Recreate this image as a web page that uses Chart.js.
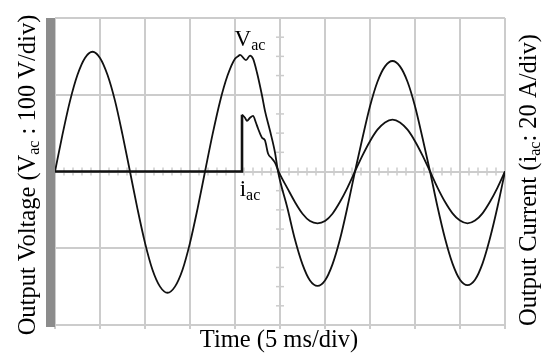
<!DOCTYPE html>
<html lang="en">
<head>
    <meta charset="UTF-8">
    <title>Output voltage and current</title>
    <style>
        body { margin: 0; background: #fff; }
        canvas { display: block; }
    </style>
</head>
<body>
    <canvas id="scopeChart" width="550" height="361"></canvas>
    <script src="https://cdn.jsdelivr.net/npm/chart.js"></script>
    <script>
        // time in ms (5 ms per division), voltage in V, current in A
        const vTime = [0, 0.83, 1.67, 2.5, 3.33, 4.17, 5, 5.83, 6.67, 7.5, 8.33, 9.17, 10, 10.83, 11.67, 12.5, 13.33, 14.17, 15, 15.83,
            16.67, 17.5, 18.33, 19.17, 20, 20.33, 20.56, 21.22, 21.67, 22.0, 22.44, 23.0, 23.33, 23.89, 24.44, 24.78,
            25.83, 26.67, 27.5, 28.33, 29.17, 30, 30.83, 31.67, 32.5, 33.33, 34.17, 35, 35.83, 36.67, 37.5, 38.33, 39.17,
            40, 40.83, 41.67, 42.5, 43.33, 44.17, 45, 45.83, 46.67, 47.5, 48.33, 49.17, 50];
        const vVolts = [0, 48, 92, 126, 148, 156, 148, 126, 92, 48, 0, -49, -93, -128, -150, -158, -150, -128, -93, -49,
            0, 48, 91, 125, 147, 150, 152, 145, 151, 147, 129, 99, 79, 53, 25, 0,
            -48, -89, -121, -142, -149, -142, -121, -88, -46, 0, 44, 85, 117, 137, 144, 137, 117,
            85, 44, 0, -46, -87, -120, -141, -148, -141, -120, -87, -46, 0];

        const iTime = [0, 20.78, 20.78, 21.11, 21.33, 21.67, 22.0, 22.33, 22.56, 23.0, 23.33, 23.67, 24.1, 24.44, 24.9,
            25.83, 26.67, 27.5, 28.33, 29.17, 30, 30.83, 31.67, 32.5, 33.33, 34.17, 35, 35.83, 36.67, 37.5, 38.33, 39.17,
            40, 40.83, 41.67, 42.5, 43.33, 44.17, 45, 45.83, 46.67, 47.5, 48.33, 49.17, 50];
        const iAmps = [0, 0, 14.8, 14.0, 13.2, 14.0, 14.5, 12.7, 11.2, 8.8, 8.1, 4.7, 3.4, 2.3, -0.3,
            -4.4, -8.0, -11.0, -12.9, -13.5, -12.9, -11.0, -7.9, -4.2, 0, 4.2, 7.9, 10.9, 12.8, 13.5, 12.8, 10.9,
            7.9, 4.2, 0, -4.2, -7.9, -10.9, -12.8, -13.5, -12.8, -10.9, -7.9, -4.2, 0];
        const stepIndex = 2; // first point after the load step

        const gridColor = '#cccccc';
        const serif = '"Liberation Serif", "Times New Roman", serif';

        const pts = (xs, ys) => xs.map((t, i) => ({ x: t, y: ys[i] }));
        const currentPts = pts(iTime, iAmps);

        function richText(ctx, parts, cx, cy, rot) {
            // parts: [text, fontSize, baselineShift]
            let total = 0;
            const widths = parts.map(p => {
                ctx.font = p[1] + 'px ' + serif;
                const w = ctx.measureText(p[0]).width;
                total += w;
                return w;
            });
            ctx.save();
            ctx.translate(cx, cy);
            ctx.rotate(rot);
            ctx.fillStyle = '#000';
            ctx.textBaseline = 'alphabetic';
            let xx = -total / 2;
            parts.forEach((p, i) => {
                ctx.font = p[1] + 'px ' + serif;
                ctx.fillText(p[0], xx, p[2]);
                xx += widths[i];
            });
            ctx.restore();
        }

        const scopeDeco = {
            id: 'scopeDeco',
            beforeDatasetsDraw(chart) {
                const { ctx, chartArea: a, scales } = chart;
                const x = scales.x, y = scales.yV;
                ctx.save();
                ctx.strokeStyle = gridColor;
                ctx.lineWidth = 1.5;
                const y0 = y.getPixelForValue(0);
                for (let t = 1; t < 50; t++) {
                    if (t % 5 === 0) continue;
                    const px = x.getPixelForValue(t);
                    ctx.beginPath(); ctx.moveTo(px, y0 - 4); ctx.lineTo(px, y0 + 4); ctx.stroke();
                }
                const x0 = x.getPixelForValue(25);
                for (let v = -175; v < 200; v += 25) {
                    if (v % 100 === 0) continue;
                    const py = y.getPixelForValue(v);
                    ctx.beginPath(); ctx.moveTo(x0 - 4, py); ctx.lineTo(x0 + 4, py); ctx.stroke();
                }
                // channel bar on the left edge
                ctx.fillStyle = '#8c8c8c';
                ctx.fillRect(a.left - 9, a.top, 9, a.bottom - a.top + 2);
                ctx.restore();
            },
            afterDraw(chart) {
                const ctx = chart.ctx;
                richText(ctx, [['Output Voltage (V', 24.5, 0], ['ac', 16, 4], [' : 100 V/div)', 24.5, 0]], 35, 175, -Math.PI / 2);
                richText(ctx, [['Output Current (i', 24.5, 0], ['ac', 16, 4], [': 20 A/div)', 24.5, 0]], 536, 180, -Math.PI / 2);
                richText(ctx, [['Time (5 ms/div)', 24.5, 0]], 279, 347, 0);
                richText(ctx, [['V', 23, 0], ['ac', 16, 4]], 250, 46, 0);
                richText(ctx, [['i', 23, 0], ['ac', 16, 4]], 250, 196, 0);
            }
        };

        new Chart(document.getElementById('scopeChart'), {
            type: 'line',
            data: {
                datasets: [
                    {
                        label: 'Vac',
                        data: pts(vTime, vVolts),
                        yAxisID: 'yV',
                        borderColor: '#111',
                        borderWidth: 1.8,
                        pointRadius: 0,
                        cubicInterpolationMode: 'monotone'
                    },
                    {
                        label: 'iac (no load)',
                        data: currentPts.slice(0, stepIndex + 1),
                        yAxisID: 'yI',
                        borderColor: '#111',
                        borderWidth: 2.6,
                        pointRadius: 0,
                        tension: 0
                    },
                    {
                        label: 'iac',
                        data: currentPts.slice(stepIndex),
                        yAxisID: 'yI',
                        borderColor: '#111',
                        borderWidth: 1.8,
                        pointRadius: 0,
                        cubicInterpolationMode: 'monotone'
                    }
                ]
            },
            options: {
                responsive: false,
                animation: false,
                devicePixelRatio: 1,
                layout: { padding: { left: 55, right: 45, top: 18, bottom: 36 } },
                plugins: { legend: { display: false }, tooltip: { enabled: false } },
                scales: {
                    x: {
                        type: 'linear',
                        min: 0,
                        max: 50,
                        ticks: { display: false, stepSize: 5 },
                        grid: { color: gridColor, lineWidth: 2, drawTicks: true, tickLength: 4 },
                        border: { display: false },
                        afterFit: s => { s.height = 0; }
                    },
                    yV: {
                        position: 'left',
                        min: -200,
                        max: 200,
                        ticks: { display: false, stepSize: 100 },
                        grid: { color: gridColor, lineWidth: 2, drawTicks: false },
                        border: { display: false },
                        afterFit: s => { s.width = 0; }
                    },
                    yI: {
                        position: 'right',
                        min: -40,
                        max: 40,
                        ticks: { display: false },
                        grid: { display: false },
                        border: { display: false },
                        afterFit: s => { s.width = 0; }
                    }
                }
            },
            plugins: [scopeDeco]
        });
    </script>
</body>
</html>
